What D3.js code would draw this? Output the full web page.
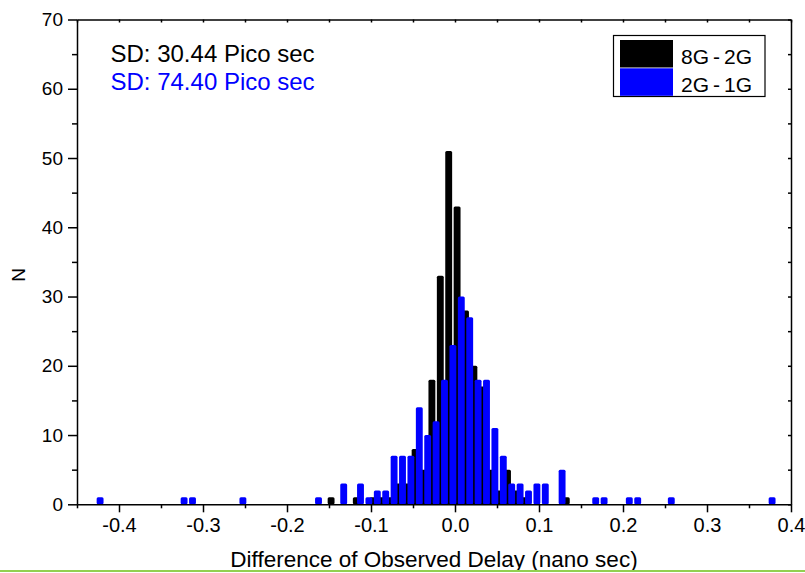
<!DOCTYPE html>
<html>
<head>
<meta charset="utf-8">
<script src="https://cdn.jsdelivr.net/npm/d3@7"></script>
<style>
  html, body { margin: 0; padding: 0; background: #fff; }
  svg { display: block; font-family: "Liberation Sans", Arial, sans-serif; }
  .axis path, .axis line { stroke: #000; stroke-width: 1.5; }
  .axis text { fill: #000; }
</style>
</head>
<body>
<div id="chart"></div>
<script>
// Histogram bins (centre, nano sec) and counts
const bins8G2G = [-0.1475, -0.1175, -0.0975, -0.0875, -0.0775, -0.0675, -0.0575, -0.0475,
  -0.0375, -0.0275, -0.0175, -0.0075, 0.0025, 0.0125, 0.0225, 0.0325, 0.0425, 0.0525,
  0.0625, 0.0725, 0.0825, 0.1325];
const counts8G2G = [1, 1, 1, 1, 1, 3, 3, 8, 5, 18, 33, 51, 43, 28, 20, 17, 5, 2, 5, 2, 1, 1];

const bins2G1G = [-0.4225, -0.3225, -0.3125, -0.2525, -0.1625, -0.1325, -0.1125, -0.1025,
  -0.0925, -0.0825, -0.0725, -0.0625, -0.0525, -0.0425, -0.0325, -0.0225, -0.0125, -0.0025,
  0.0075, 0.0175, 0.0275, 0.0375, 0.0475, 0.0575, 0.0675, 0.0775, 0.0875, 0.0975, 0.1075,
  0.1275, 0.1675, 0.1775, 0.2075, 0.2175, 0.2575, 0.3775];
const counts2G1G = [1, 1, 1, 1, 1, 3, 3, 1, 2, 2, 7, 7, 7, 14, 10, 12, 18, 23, 30, 27, 18, 18,
  11, 7, 3, 3, 2, 3, 3, 5, 1, 1, 1, 1, 1, 1];

const seriesNames = ["8G-2G", "2G-1G"];
const sdLabels = ["SD: 30.44 Pico sec", "SD: 74.40 Pico sec"];

const xTickValues = [-0.4, -0.3, -0.2, -0.1, 0, 0.1, 0.2, 0.3, 0.4];
const xTickLabels = ["-0.4", "-0.3", "-0.2", "-0.1", "0.0", "0.1", "0.2", "0.3", "0.4"];
const yTickValues = [0, 10, 20, 30, 40, 50, 60, 70];

(function () {
  "use strict";

  const W = 805, H = 573;
  const left = 77, right = 791, top = 19.5, bottom = 504.3;
  const COLORS = ["#000000", "#0000ff"];
  const binWidth = 0.0082; // drawn bar width in data units

  const svg = d3.select("#chart").append("svg")
    .attr("width", W)
    .attr("height", H);

  // 1. Scales
  const x = d3.scaleLinear().domain([-0.45, 0.4]).range([left, right]);
  const y = d3.scaleLinear().domain([0, 70]).range([bottom, top]);
  const xMinor = d3.range(-0.45, 0.41, 0.05).map(v => Math.round(v * 100) / 100)
    .filter(v => !xTickValues.includes(v));
  const yMinor = d3.range(5, 70, 10);

  // 2. Bars, black series first so blue sits on top
  const series = [
    { name: seriesNames[0], bins: bins8G2G, counts: counts8G2G, color: COLORS[0] },
    { name: seriesNames[1], bins: bins2G1G, counts: counts2G1G, color: COLORS[1] }
  ];
  const barW = x(binWidth) - x(0);

  series.forEach(s => {
    const rows = s.bins.map((c, i) => ({ c: c, n: s.counts[i] }));
    svg.append("g")
      .selectAll("rect")
      .data(rows)
      .join("rect")
      .attr("x", d => x(d.c) - barW / 2)
      .attr("width", barW)
      .attr("y", d => y(d.n))
      .attr("height", d => y(0) - y(d.n))
      .attr("rx", 1.5)
      .attr("fill", s.color);
  });

  // 3. Axes: bottom and left outward, top and right inward
  const xAxis = svg.append("g")
    .attr("class", "axis")
    .attr("transform", `translate(0,${bottom})`)
    .call(d3.axisBottom(x).tickValues(xTickValues)
      .tickFormat((d, i) => xTickLabels[i]).tickSize(8).tickSizeOuter(0).tickPadding(6));
  xAxis.selectAll("text").attr("font-size", 20).attr("font-family", "Liberation Sans, Arial, sans-serif");

  svg.append("g")
    .attr("class", "axis")
    .attr("transform", `translate(0,${bottom})`)
    .call(d3.axisBottom(x).tickValues(xMinor).tickFormat("").tickSize(4).tickSizeOuter(0))
    .select(".domain").remove();

  const yAxis = svg.append("g")
    .attr("class", "axis")
    .attr("transform", `translate(${left},0)`)
    .call(d3.axisLeft(y).tickValues(yTickValues).tickSize(9).tickSizeOuter(0).tickPadding(5));
  yAxis.selectAll("text").attr("font-size", 19).attr("font-family", "Liberation Sans, Arial, sans-serif");

  svg.append("g")
    .attr("class", "axis")
    .attr("transform", `translate(${left},0)`)
    .call(d3.axisLeft(y).tickValues(yMinor).tickFormat("").tickSize(5).tickSizeOuter(0))
    .select(".domain").remove();

  svg.append("g")
    .attr("class", "axis")
    .attr("transform", `translate(0,${top})`)
    .call(d3.axisBottom(x).tickValues(xTickValues.concat(xMinor)).tickFormat("").tickSize(3).tickSizeOuter(0));

  svg.append("g")
    .attr("class", "axis")
    .attr("transform", `translate(${right},0)`)
    .call(d3.axisLeft(y).tickValues(yTickValues.concat(yMinor)).tickFormat("").tickSize(3).tickSizeOuter(0));

  // Axis titles
  svg.append("text")
    .attr("x", (left + right) / 2)
    .attr("y", 567)
    .attr("text-anchor", "middle")
    .attr("font-size", 22.5)
    .text("Difference of Observed Delay (nano sec)");

  svg.append("text")
    .attr("transform", "translate(25,275) rotate(-90)")
    .attr("text-anchor", "middle")
    .attr("font-size", 19)
    .text("N");

  // 4. SD annotations
  sdLabels.forEach((t, i) => {
    svg.append("text")
      .attr("x", 110.5)
      .attr("y", 61.7 + i * 28.3)
      .attr("font-size", 24)
      .attr("fill", COLORS[i])
      .text(t);
  });

  // 5. Legend
  const legend = svg.append("g").attr("transform", "translate(613.5,35.5)");
  legend.append("rect")
    .attr("width", 151.5)
    .attr("height", 61)
    .attr("fill", "#fff")
    .attr("stroke", "#000")
    .attr("stroke-width", 1.2);

  seriesNames.forEach((name, i) => {
    legend.append("rect")
      .attr("x", 6.5)
      .attr("y", 4.5 + i * 28.3)
      .attr("width", 53)
      .attr("height", 27.5)
      .attr("fill", COLORS[i]);
    // hyphen gets a little air on each side, as in the original
    const parts = name.split("-");
    const t = legend.append("text")
      .attr("x", 67.5)
      .attr("y", 28 + i * 28.3)
      .attr("font-size", 21);
    t.append("tspan").text(parts[0]);
    t.append("tspan").attr("dx", 4).text("-");
    t.append("tspan").attr("dx", 4).text(parts[1]);
  });

  // green rule along the bottom edge
  svg.append("line")
    .attr("x1", 0).attr("x2", W)
    .attr("y1", 571).attr("y2", 571)
    .attr("stroke", "#92d050")
    .attr("stroke-width", 2);
})();
</script>
</body>
</html>
